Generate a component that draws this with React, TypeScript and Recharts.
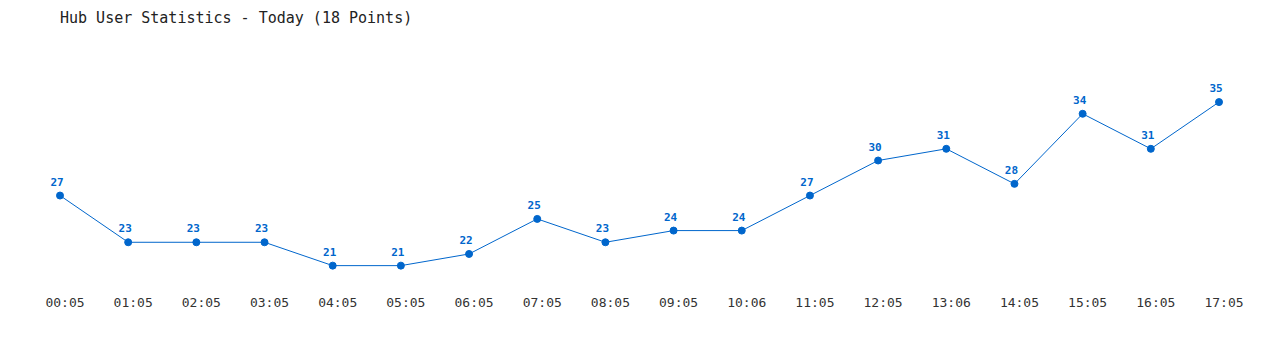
import React from 'react';
import { LineChart, Line, XAxis, YAxis, LabelList } from 'recharts';

const times = [
  '00:05', '01:05', '02:05', '03:05', '04:05', '05:05', '06:05', '07:05', '08:05',
  '09:05', '10:06', '11:05', '12:05', '13:06', '14:05', '15:05', '16:05', '17:05',
];
const users = [27, 23, 23, 23, 21, 21, 22, 25, 23, 24, 24, 27, 30, 31, 28, 34, 31, 35];

const data = times.map((time, i) => ({ time, users: users[i] }));

const MONO = '"DejaVu Sans Mono", "Liberation Mono", monospace';

export default function App() {
  return (
    <div style={{ position: 'fixed', left: 0, top: 0, width: 1280, height: 350, background: '#fff' }}>
      <div
        style={{
          position: 'absolute',
          left: 60,
          top: 9,
          fontFamily: MONO,
          fontSize: 15,
          color: '#222',
          whiteSpace: 'pre',
        }}
      >
        Hub User Statistics - Today (18 Points)
      </div>
      <LineChart width={1280} height={350} data={data} margin={{ top: 32, right: 0, bottom: 31, left: 0 }}>
        <XAxis
          dataKey="time"
          axisLine={false}
          tickLine={false}
          tickSize={0}
          tickMargin={9}
          height={30}
          interval={0}
          padding={{ left: 60, right: 61 }}
          tick={{ fill: '#333', fontSize: 13, fontFamily: MONO, dx: 5 }}
        />
        <YAxis hide domain={[19, 41]} />
        <Line
          type="linear"
          dataKey="users"
          stroke="#0066cc"
          strokeWidth={1}
          dot={{ r: 3.5, fill: '#0066cc', stroke: '#0066cc', strokeWidth: 1 }}
          isAnimationActive={false}
        >
          <LabelList
            dataKey="users"
            position="top"
            offset={10}
            dx={-3}
            fill="#0066cc"
            fontSize={11}
            fontWeight="bold"
            fontFamily={MONO}
          />
        </Line>
      </LineChart>
    </div>
  );
}
